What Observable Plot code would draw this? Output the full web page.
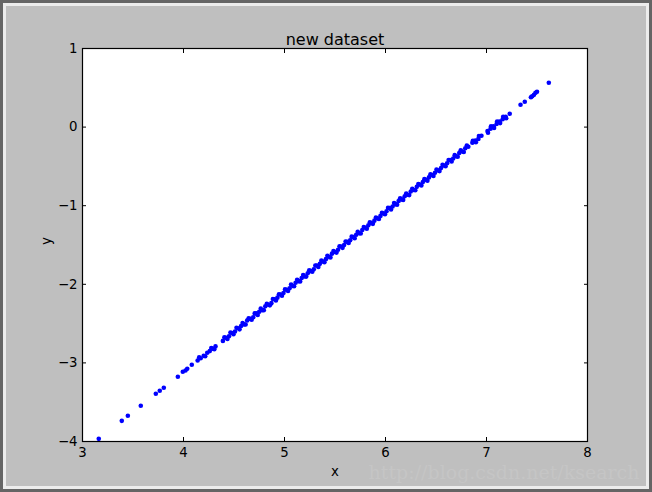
<!DOCTYPE html>
<html>
<head>
<meta charset="utf-8">
<script src="https://cdn.jsdelivr.net/npm/d3@7"></script>
<script src="https://cdn.jsdelivr.net/npm/@observablehq/plot@0.6"></script>
<style>
  html, body { margin: 0; padding: 0; background: #bfbfbf; }
  #wrap { position: relative; width: 652px; height: 492px; background: #bfbfbf; overflow: hidden; }
  #wrap svg { position: absolute; left: 0; top: 0; }
  #frame { position: absolute; left: 0; top: 0; width: 652px; height: 492px; box-sizing: border-box;
           border: 3px solid #656565; box-shadow: inset 0 0 0 3px #ececec; pointer-events: none; }
</style>
</head>
<body>
<div id="wrap"></div>
<script>
const title = "new dataset";
const xLabel = "x";
const yLabel = "y";
const watermark = "http://blog.csdn.net/ksearch";
const xTicks = [3, 4, 5, 6, 7, 8];
const yTicks = [-4, -3, -2, -1, 0, 1];

// points along the band (first reading)
const xs = [
  3.161, 3.389, 3.449, 3.577, 3.726, 3.765, 3.805, 3.944, 3.993, 4.020, 4.037, 4.082,
  4.14, 4.17, 4.20, 4.235, 4.26, 4.29, 4.317,
  4.39, 4.42, 4.45, 4.48, 4.51, 4.54, 4.57, 4.60, 4.63, 4.66, 4.69, 4.72, 4.75, 4.78, 4.81, 4.84,
  4.87, 4.90, 4.93, 4.96, 4.99, 5.02, 5.05, 5.08, 5.11, 5.14, 5.17, 5.20, 5.23, 5.26, 5.29, 5.32,
  5.35, 5.38, 5.41, 5.44, 5.47, 5.50, 5.53, 5.56, 5.59, 5.62, 5.65, 5.68, 5.71, 5.74, 5.77, 5.80,
  5.83, 5.86, 5.89, 5.92, 5.95, 5.98, 6.01, 6.04, 6.07, 6.10, 6.13, 6.16, 6.19, 6.22, 6.25, 6.28,
  6.31, 6.34, 6.37, 6.40, 6.43, 6.46, 6.49, 6.52, 6.55, 6.58, 6.61, 6.64, 6.67, 6.70, 6.73, 6.76,
  6.79, 6.82, 6.86, 6.89, 6.92, 6.95, 7.01, 7.04, 7.07, 7.10, 7.13, 7.16, 7.19, 7.23,
  7.337, 7.379, 7.44, 7.452, 7.47, 7.485, 7.50, 7.617
];
const ys = [
  -3.966, -3.737, -3.673, -3.546, -3.393, -3.355, -3.317, -3.177, -3.113, -3.096, -3.075, -3.024,
  -2.97, -2.94, -2.91, -2.87, -2.85, -2.82, -2.79,
  -2.72, -2.68, -2.66, -2.62, -2.60, -2.56, -2.53, -2.51, -2.46, -2.44, -2.42, -2.37, -2.35, -2.33, -2.28, -2.26,
  -2.24, -2.19, -2.17, -2.13, -2.11, -2.07, -2.05, -2.02, -1.98, -1.96, -1.92, -1.90, -1.86, -1.83, -1.81, -1.76,
  -1.74, -1.71, -1.68, -1.65, -1.61, -1.59, -1.56, -1.52, -1.50, -1.46, -1.44, -1.40, -1.37, -1.35, -1.31, -1.28,
  -1.25, -1.22, -1.19, -1.16, -1.13, -1.10, -1.07, -1.03, -1.01, -0.98, -0.94, -0.92, -0.88, -0.86, -0.82, -0.80,
  -0.76, -0.73, -0.70, -0.67, -0.64, -0.61, -0.58, -0.55, -0.52, -0.49, -0.46, -0.42, -0.40, -0.37, -0.33, -0.31,
  -0.27, -0.25, -0.20, -0.17, -0.15, -0.11, -0.05, -0.02, 0.01, 0.04, 0.07, 0.10, 0.13, 0.17,
  0.284, 0.322, 0.38, 0.393, 0.41, 0.436, 0.45, 0.564
];

// extra points in the dense middle band (second reading)
const xs2 = [
  4.155, 4.215, 4.275, 4.305,
  4.405, 4.435, 4.465, 4.495, 4.525, 4.555, 4.585, 4.615, 4.645, 4.675, 4.705, 4.735, 4.765, 4.795,
  4.825, 4.855, 4.885, 4.915, 4.945, 4.975, 5.005, 5.035, 5.065, 5.095, 5.125, 5.155, 5.185, 5.215,
  5.245, 5.275, 5.305, 5.335, 5.365, 5.395, 5.425, 5.455, 5.485, 5.515, 5.545, 5.575, 5.605, 5.635,
  5.665, 5.695, 5.725, 5.755, 5.785, 5.815, 5.845, 5.875, 5.905, 5.935, 5.965, 5.995, 6.025, 6.055,
  6.085, 6.115, 6.145, 6.175, 6.205, 6.235, 6.265, 6.295, 6.325, 6.355, 6.385, 6.415, 6.445, 6.475,
  6.505, 6.535, 6.565, 6.595, 6.625, 6.655, 6.685, 6.715, 6.745, 6.775, 6.805,
  6.865, 6.895, 6.925, 7.015, 7.045, 7.075, 7.105, 7.135, 7.165, 7.195
];
const ys2 = [
  -2.93, -2.915, -2.81, -2.825,
  -2.675, -2.695, -2.614, -2.634, -2.553, -2.573, -2.492, -2.512, -2.431, -2.451, -2.370, -2.390, -2.309, -2.329,
  -2.248, -2.268, -2.187, -2.207, -2.126, -2.146, -2.065, -2.085, -2.004, -2.024, -1.943, -1.963, -1.882, -1.902,
  -1.821, -1.841, -1.760, -1.780, -1.699, -1.719, -1.638, -1.658, -1.577, -1.597, -1.516, -1.536, -1.455, -1.475,
  -1.394, -1.414, -1.333, -1.353, -1.272, -1.292, -1.211, -1.231, -1.150, -1.170, -1.089, -1.109, -1.028, -1.048,
  -0.967, -0.987, -0.906, -0.926, -0.845, -0.865, -0.784, -0.804, -0.723, -0.743, -0.662, -0.682, -0.601, -0.621,
  -0.540, -0.560, -0.479, -0.499, -0.418, -0.438, -0.357, -0.377, -0.296, -0.316, -0.235,
  -0.174, -0.193, -0.113, -0.071, 0.010, -0.010, 0.071, 0.051, 0.132, 0.112
];

const points = xs.map((x, i) => ({x, y: ys[i]}))
  .concat(xs2.map((x, i) => ({x, y: ys2[i]})));
const font = "DejaVu Sans, sans-serif";
const fmt = d => (d < 0 ? "\u2212" + Math.abs(d) : String(d));

const chart = Plot.plot({
  width: 652,
  height: 492,
  marginLeft: 82,
  marginRight: 65,
  marginTop: 48,
  marginBottom: 51,
  style: { background: "transparent", fontFamily: font, fontSize: "13.3px", color: "black" },
  x: { domain: [3, 8], ticks: xTicks },
  y: { domain: [-4, 1], ticks: yTicks },
  marks: [
    Plot.frame({ fill: "white", stroke: null }),
    Plot.dot(points, { x: "x", y: "y", r: 2.3, fill: "#0000ff", stroke: null }),
    Plot.frame({ stroke: "black", strokeWidth: 1.2 }),
    // inward tick marks on all four sides
    Plot.axisX(xTicks, { anchor: "bottom", tickSize: 4, dy: -4, tickFormat: () => "", label: null }),
    Plot.axisX(xTicks, { anchor: "top", tickSize: 4, dy: 4, tickFormat: () => "", label: null }),
    Plot.axisY(yTicks, { anchor: "left", tickSize: 4, dx: 4, tickFormat: () => "", label: null }),
    Plot.axisY(yTicks, { anchor: "right", tickSize: 4, dx: -4, tickFormat: () => "", label: null }),
    // tick labels
    Plot.axisX(xTicks, { anchor: "bottom", tickSize: 0, tickPadding: 6, label: null, fontSize: 13.3, tickFormat: fmt }),
    Plot.axisY(yTicks, { anchor: "left", tickSize: 0, tickPadding: 5, label: null, fontSize: 13.3, tickFormat: fmt }),
    // axis labels & title
    Plot.text([xLabel], { frameAnchor: "bottom", lineAnchor: "middle", dy: 30, fontSize: 13.3, fill: "black" }),
    Plot.text([yLabel], { frameAnchor: "left", dx: -36, rotate: -90, fontSize: 13.3, fill: "black" }),
    Plot.text([title], { frameAnchor: "top", lineAnchor: "bottom", dy: -4, fontSize: 16, fill: "black" }),
    Plot.text([watermark], { frameAnchor: "bottom-right", lineAnchor: "middle", dx: 52, dy: 31, textAnchor: "end",
      fontSize: 19, fontFamily: "DejaVu Serif, serif", fill: "#c5c5c5" })
  ]
});

const wrap = document.getElementById("wrap");
wrap.appendChild(chart);
const frame = document.createElement("div");
frame.id = "frame";
wrap.appendChild(frame);
</script>
</body>
</html>
